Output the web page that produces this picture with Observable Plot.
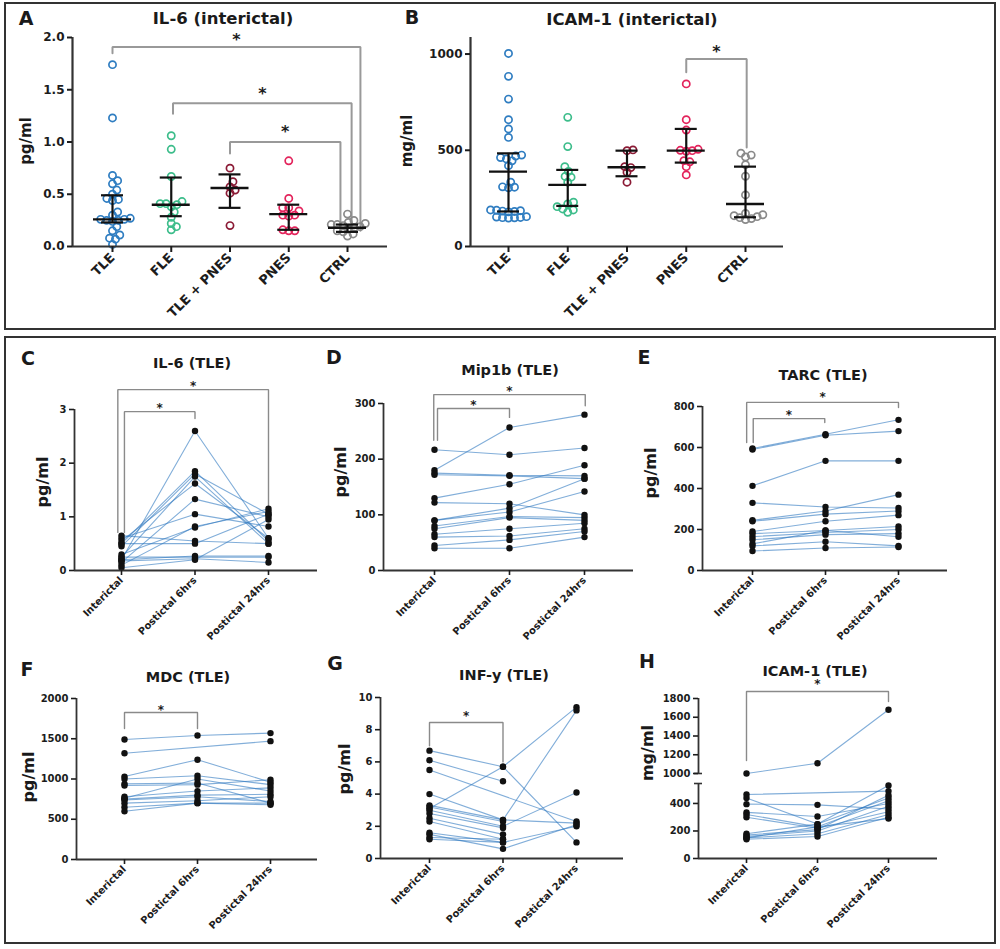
<!DOCTYPE html>
<html><head><meta charset="utf-8">
<script src="https://cdn.jsdelivr.net/npm/d3@7"></script>
<script src="https://cdn.jsdelivr.net/npm/@observablehq/plot@0.6"></script>
<style>
body{margin:0;background:#fff;}
#root{position:relative;width:1000px;height:949px;overflow:hidden;font-family:"DejaVu Sans",sans-serif;}
.box{position:absolute;border:2px solid #333;box-sizing:border-box;}
.lbl{position:absolute;white-space:nowrap;color:#1a1a1a;font-weight:bold;transform:translate(-50%,-50%);line-height:1;}
</style></head><body><div id="root"></div>
<script>
// ---------- DATA ----------
const groups = ["TLE", "FLE", "TLE + PNES", "PNES", "CTRL"];
const groupColors = ["#2f7dc1", "#3dbd8b", "#8b1a35", "#e3245c", "#8a8a8a"];

// Panel A: IL-6 (interictal), pg/ml
const il6TLE = [1.74, 1.23, 0.68, 0.63, 0.60, 0.54, 0.50, 0.46, 0.45, 0.44, 0.33, 0.30, 0.27, 0.26, 0.26, 0.25, 0.25, 0.24, 0.19, 0.15, 0.11, 0.08, 0.07, 0.02];
const il6FLE = [1.06, 0.93, 0.67, 0.43, 0.41, 0.41, 0.40, 0.38, 0.33, 0.28, 0.22, 0.19, 0.16];
const il6TLEPNES = [0.75, 0.62, 0.57, 0.54, 0.51, 0.20];
const il6PNES = [0.82, 0.46, 0.37, 0.37, 0.34, 0.30, 0.30, 0.29, 0.16, 0.15, 0.15];
const il6CTRL = [0.31, 0.25, 0.23, 0.22, 0.21, 0.21, 0.20, 0.19, 0.18, 0.17, 0.15, 0.14, 0.12, 0.10];
const il6Median = [0.26, 0.40, 0.56, 0.31, 0.18];
const il6Low = [0.23, 0.29, 0.37, 0.16, 0.14];
const il6High = [0.49, 0.66, 0.69, 0.40, 0.21];
// brackets: [x from, x to, top, left leg end, right leg end, star y]
const il6Brackets = [[0, 4.22, 1.91, 1.85, 0.15, 2.02], [1.03, 4.07, 1.37, 1.27, 0.15, 1.51], [2.0, 3.88, 1.0, 0.89, 0.15, 1.14]];
const il6Ticks = [0, 0.5, 1, 1.5, 2];

// Panel B: ICAM-1 (interictal), mg/ml
const icamTLE = [1003, 884, 766, 659, 611, 567, 475, 470, 462, 455, 445, 420, 334, 310, 308, 305, 190, 188, 186, 184, 182, 180, 155, 153, 151, 150, 149, 148];
const icamFLE = [671, 519, 415, 390, 364, 360, 334, 230, 221, 207, 195, 190, 178];
const icamTLEPNES = [502, 498, 415, 410, 386, 334];
const icamPNES = [845, 659, 605, 505, 500, 498, 495, 446, 440, 415, 372];
const icamCTRL = [485, 475, 465, 425, 365, 268, 172, 165, 160, 155, 150, 145, 140];
const icamMedian = [389, 320, 412, 498, 221];
const icamLow = [182, 211, 365, 436, 152];
const icamHigh = [484, 398, 498, 611, 415];
const icamBrackets = [[3.0, 4.02, 974, 905, 515, 1038]];
const icamTicks = [0, 500, 1000];

// Panels C-H: paired TLE measurements
const timepoints = ["Interictal", "Postictal 6hrs", "Postictal 24hrs"];
const il6Paired = [[0.20, 2.60, 0.60], [0.50, 1.85, 0.55], [0.45, 1.80, 1.05], [0.25, 1.75, 0.50], [0.55, 1.62, 0.60], [0.15, 1.33, 1.00], [0.60, 1.05, 0.82], [0.10, 0.82, 1.10], [0.30, 0.80, 1.15], [0.65, 0.55, 0.50], [0.20, 0.27, 0.27], [0.25, 0.25, 0.25], [0.18, 0.22, 0.15], [0.05, 0.20, 0.95], [0.50, 0.50, 1.05]];
const il6PairedBrackets = [[-0.05, 2.0, 3.37, 0.71, 1.21, 3.5], [0.04, 1.0, 2.96, 0.71, 2.83, 3.09]];
const il6PairedTicks = [0, 1, 2, 3];

const mip1bPaired = [[180, 257, 280], [217, 208, 220], [175, 171, 170], [172, 170, 165], [130, 155, 189], [122, 120, 100], [90, 112, 165], [90, 105, 142], [80, 97, 95], [75, 95, 90], [65, 75, 85], [60, 62, 75], [45, 55, 70], [40, 40, 60]];
const mip1bBrackets = [[-0.01, 2.01, 316, 234, 296, 329], [0.04, 1.0, 291, 234, 275, 304]];
const mip1bTicks = [0, 100, 200, 300];

const tarcPaired = [[595, 665, 735], [590, 660, 680], [413, 535, 535], [330, 310, 305], [245, 290, 370], [240, 275, 290], [190, 240, 270], [180, 195, 215], [165, 185, 200], [150, 175, 180], [130, 195, 165], [120, 140, 120], [95, 110, 115]];
const tarcBrackets = [[-0.08, 2.0, 820, 624, 795, 863], [0.01, 0.99, 741, 624, 722, 776]];
const tarcTicks = [0, 200, 400, 600, 800];

const mdcPaired = [[1490, 1540, 1570], [1320, null, 1470], [1030, 1240, 960], [1000, 1040, 930], [940, 950, 700], [920, 930, 990], [780, 850, 890], [760, 1000, 850], [750, 800, 810], [740, 780, 720], [700, 730, 780], [650, 700, 680], [600, 700, 700]];
const mdcBrackets = [[0, 1.0, 1826, 1627, 1627, 1900]];
const mdcTicks = [0, 500, 1000, 1500, 2000];

const infgPaired = [[6.7, 5.7, 1.0], [6.1, 4.8, null], [5.5, null, 2.3], [4.0, 2.4, 2.2], [3.1, 5.7, 9.4], [3.3, 2.4, 9.2], [3.2, 2.3, null], [3.0, 2.0, 4.1], [2.8, 1.9, null], [2.5, 1.5, null], [2.3, 1.2, null], [1.6, 1.0, 2.0], [1.5, 0.6, 2.1], [1.3, 1.2, null], [1.2, 1.0, null]];
const infgBrackets = [[0, 1.0, 8.45, 7.0, 6.0, 9.07]];
const infgTicks = [0, 2, 4, 6, 8, 10];

const icamTLEPaired = [[1000, 1110, 1680], [465, null, 490], [440, 250, 440], [395, 390, 360], [335, 305, 400], [320, 230, 420], [300, 220, 340], [180, 250, 530], [170, 210, 460], [160, 200, 380], [150, 180, 320], [140, 160, 300], [150, 230, 290]];
const icamTLEBrackets = [[0, 2.0, 1875, 1139, 1768, 1992]];
const icamTLETicks = [0, 200, 400, 1000, 1200, 1400, 1600, 1800];
const icamTLEBreak = [[0, 545], [1000, 1800]];

// ---------- LAYOUT ----------
const W = 1000, H = 949;
const root = document.getElementById("root");
const INK = "#1c1c1c";

function addBox(l, t, w, h) {
  const d = document.createElement("div");
  d.className = "box";
  Object.assign(d.style, {left: l + "px", top: t + "px", width: w + "px", height: h + "px"});
  root.append(d);
}
function addText(text, x, y, size, rotate) {
  const d = document.createElement("div");
  d.className = "lbl";
  d.textContent = text;
  Object.assign(d.style, {left: x + "px", top: y + "px", fontSize: size + "px"});
  if (rotate) d.style.transform = "translate(-50%,-50%) rotate(-90deg)";
  root.append(d);
}

function baseOpts(c) {
  const x0 = (c.left - c.first) / c.step, x1 = (c.right - c.first) / c.step;
  const y = {domain: [0, c.ymax]};
  if (c.ytransform) y.transform = c.ytransform;
  return {
    x0,
    opts: {
      width: W, height: H,
      marginLeft: c.left, marginRight: W - c.right, marginTop: c.top, marginBottom: H - c.bottom,
      x: {domain: [x0, x1]},
      y,
      style: {background: "transparent", position: "absolute", left: "0px", top: "0px", overflow: "visible", fontFamily: "DejaVu Sans, sans-serif"}
    }
  };
}

function bracketMarks(br, color, sw, starSize) {
  const pts = br.flatMap((b, k) => [[b[0], b[3]], [b[0], b[2]], [b[1], b[2]], [b[1], b[4]]].map(p => ({k, x: p[0], y: p[1]})));
  return [
    Plot.line(pts, {x: "x", y: "y", z: "k", stroke: color, strokeWidth: sw, strokeLinejoin: "miter"}),
    Plot.text(br, {x: b => (b[0] + b[1]) / 2, y: b => b[5], text: () => "*", fontSize: starSize, fontWeight: "bold", fill: INK, lineAnchor: "middle", dy: starSize * 0.3})
  ];
}

function swarm(values, ypx, r) {
  const order = d3.range(values.length).sort((a, b) => values[a] - values[b]);
  const placed = [], off = new Array(values.length), d = 2 * r;
  for (const i of order) {
    const y = ypx(values[i]);
    const cands = [0];
    for (const p of placed) {
      const dy = Math.abs(p.y - y);
      if (dy < d) { const dx = Math.sqrt(d * d - dy * dy); cands.push(p.x + dx + 0.01, p.x - dx - 0.01); }
    }
    cands.sort((a, b) => Math.abs(a) - Math.abs(b));
    let best = cands[cands.length - 1];
    for (const c of cands) {
      if (placed.every(p => (p.x - c) ** 2 + (p.y - y) ** 2 >= d * d - 0.05)) { best = c; break; }
    }
    placed.push({x: best, y}); off[i] = best;
  }
  return off;
}

function scatterPanel(c, groupVals, med, lo, hi, brackets, ticks, fmt) {
  const {x0, opts} = baseOpts(c);
  const ypx = d3.scaleLinear([0, c.ymax], [c.bottom, c.top]);
  const dotMarks = groupVals.map((vals, gi) => {
    const off = swarm(vals, ypx, 3.0);
    const rows = vals.map((v, k) => ({x: gi + off[k] / c.step, v}));
    return Plot.dot(rows, {x: "x", y: "v", r: 3.6, stroke: groupColors[gi], strokeWidth: 1.7, fill: "none"});
  });
  const idx = d3.range(groups.length);
  const wMed = 19 / c.step, wCap = 11 / c.step;
  opts.marks = [
    ...bracketMarks(brackets, "#999", 2, 16),
    ...dotMarks,
    Plot.ruleX(idx, {x: i => i, y1: i => lo[i], y2: i => hi[i], stroke: "#111", strokeWidth: 2.2}),
    Plot.ruleY(idx, {y: i => med[i], x1: i => i - wMed, x2: i => i + wMed, stroke: "#111", strokeWidth: 2.4}),
    Plot.ruleY(idx, {y: i => lo[i], x1: i => i - wCap, x2: i => i + wCap, stroke: "#111", strokeWidth: 2.2}),
    Plot.ruleY(idx, {y: i => hi[i], x1: i => i - wCap, x2: i => i + wCap, stroke: "#111", strokeWidth: 2.2}),
    Plot.ruleY([0], {stroke: "#333", strokeWidth: 2.2}),
    Plot.ruleX([x0], {stroke: "#333", strokeWidth: 2.2}),
    Plot.axisY({ticks, tickFormat: fmt, tickSize: 5, tickPadding: 3, strokeWidth: 2, color: INK, fontSize: 12, fontWeight: "bold", label: null}),
    Plot.axisX({ticks: idx, tickFormat: i => groups[i], tickRotate: -45, tickSize: 6, tickPadding: 3, strokeWidth: 2, color: INK, fontSize: 13, fontWeight: "bold", label: null})
  ];
  root.append(Plot.plot(opts));
}

function pairedPanel(c, paired, brackets, ticks, extra) {
  const {x0, opts} = baseOpts(c);
  const rows = paired.flatMap((s, id) => s.map((v, t) => ({id, t, v}))).filter(d => d.v != null);
  const axisLine = extra && extra.segments
    ? [Plot.ruleX(extra.segments, {x: () => x0, y1: d => d[0], y2: d => d[1], stroke: "#333", strokeWidth: 1.8}),
       Plot.ruleY(extra.segments, {y: d => d[1] > 1000 ? d[0] : d[1], x1: () => x0 - 4 / c.step, x2: () => x0 + 4 / c.step, stroke: "#333", strokeWidth: 1.6})]
    : [Plot.ruleX([x0], {stroke: "#333", strokeWidth: 1.8})];
  // axis ticks are not passed through the scale transform, so map them explicitly
  const tf = c.ytransform || (v => v);
  const tickBack = new Map(ticks.map(t => [tf(t), t]));
  opts.marks = [
    ...bracketMarks(brackets, "#8a8a8a", 1.4, 12),
    Plot.line(rows, {x: "t", y: "v", z: "id", stroke: "#2f78c0", strokeOpacity: 0.6, strokeWidth: 1.1}),
    Plot.dot(rows, {x: "t", y: "v", r: 3.2, fill: "#111"}),
    Plot.ruleY([0], {stroke: "#333", strokeWidth: 1.8}),
    ...axisLine,
    Plot.axisY({ticks: ticks.map(tf), tickFormat: d => d3.format("d")(tickBack.get(d)), tickSize: 5, tickPadding: 3, strokeWidth: 1.6, color: INK, fontSize: 10, fontWeight: "bold", label: null}),
    Plot.axisX({ticks: [0, 1, 2], tickFormat: i => timepoints[i], tickRotate: -45, tickSize: 5, tickPadding: 3, strokeWidth: 1.6, color: INK, fontSize: 10, fontWeight: "bold", label: null})
  ];
  root.append(Plot.plot(opts));
}

// frames
addBox(4, 2, 992, 328);
addBox(4, 336, 992, 608);

// Panel A & B
scatterPanel({left: 72, right: 387, first: 112, step: 58.75, top: 37, bottom: 246, ymax: 2},
  [il6TLE, il6FLE, il6TLEPNES, il6PNES, il6CTRL], il6Median, il6Low, il6High, il6Brackets, il6Ticks, d3.format(".1f"));
scatterPanel({left: 470, right: 783, first: 508, step: 59.25, top: 37, bottom: 246, ymax: 1086},
  [icamTLE, icamFLE, icamTLEPNES, icamPNES, icamCTRL], icamMedian, icamLow, icamHigh, icamBrackets, icamTicks, d3.format("d"));

// Panels C-H
pairedPanel({left: 74, right: 317, first: 121, step: 73.5, top: 409, bottom: 570, ymax: 3}, il6Paired, il6PairedBrackets, il6PairedTicks);
pairedPanel({left: 383, right: 633, first: 434, step: 75, top: 403, bottom: 570, ymax: 300}, mip1bPaired, mip1bBrackets, mip1bTicks);
pairedPanel({left: 702, right: 947, first: 752, step: 73, top: 406, bottom: 570, ymax: 800}, tarcPaired, tarcBrackets, tarcTicks);
pairedPanel({left: 76, right: 317, first: 124, step: 73, top: 698, bottom: 859, ymax: 2000}, mdcPaired, mdcBrackets, mdcTicks);
pairedPanel({left: 380, right: 623, first: 429, step: 73.5, top: 697, bottom: 858, ymax: 10}, infgPaired, infgBrackets, infgTicks);
// broken axis: lower segment 0-545 and upper segment 1000-1800 with a small gap
const brokenY = v => v <= 545 ? v * 0.1376 : 85 + (v - 1000) * 0.09375;
pairedPanel({left: 698, right: 937, first: 746, step: 71, top: 698, bottom: 858, ymax: 160, ytransform: brokenY},
  icamTLEPaired, icamTLEBrackets, icamTLETicks, {segments: icamTLEBreak});

// titles, letters, axis labels
addText("A", 26, 18, 19); addText("B", 412, 17, 19);
addText("IL-6 (interictal)", 223, 19, 16.5); addText("ICAM-1 (interictal)", 632, 20, 16.5);
addText("pg/ml", 26, 141, 15, true); addText("mg/ml", 407, 141, 15, true);

addText("C", 28, 358, 19); addText("D", 334, 357, 19); addText("E", 644, 357, 19);
addText("F", 27, 669, 19); addText("G", 335, 663, 19); addText("H", 647, 661, 19);
addText("IL-6 (TLE)", 192, 363, 14.5); addText("Mip1b (TLE)", 510, 370, 14.5); addText("TARC (TLE)", 823, 375, 14.5);
addText("MDC (TLE)", 188, 677, 14.5); addText("INF-y (TLE)", 504, 675, 14.5); addText("ICAM-1 (TLE)", 815, 671, 14.5);
addText("pg/ml", 43, 482, 16, true); addText("pg/ml", 341, 472, 16, true); addText("pg/ml", 651, 473, 16, true);
addText("pg/ml", 29, 777, 16, true); addText("pg/ml", 345, 769, 16, true); addText("mg/ml", 648, 753, 16, true);
</script></body></html>
